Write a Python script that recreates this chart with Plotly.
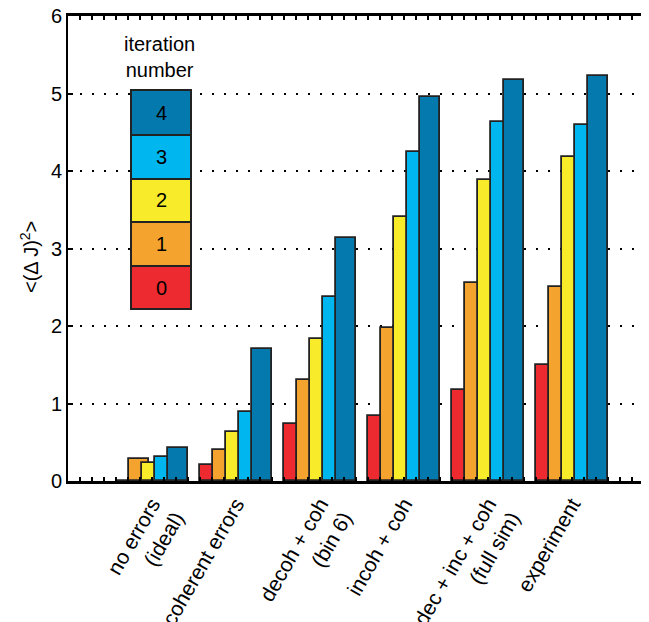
import plotly.graph_objects as go

# ---- data ----
categories = ["no errors<br>(ideal)", "coherent errors", "decoh + coh<br>(bin 6)",
              "incoh + coh", "dec + inc + coh<br>(full sim)", "experiment"]
group_pos = [1, 2, 3, 4, 5, 6]
iterations = ["0", "1", "2", "3", "4"]
iter0 = [0.00, 0.21, 0.73, 0.84, 1.18, 1.50]
iter1 = [0.29, 0.40, 1.30, 1.98, 2.56, 2.50]
iter2 = [0.23, 0.63, 1.83, 3.41, 3.88, 4.18]
iter3 = [0.31, 0.89, 2.37, 4.25, 4.63, 4.59]
iter4 = [0.43, 1.70, 3.14, 4.95, 5.17, 5.22]
series = [iter0, iter1, iter2, iter3, iter4]
y_ticks = [0, 1, 2, 3, 4, 5, 6]
y_title = "&lt;(Δ J)<sup>2</sup>&gt;"

# ---- style ----
colors = ["#ED2A2F", "#F4A42E", "#F7EB2A", "#00B6EE", "#0379AD"]
FONT = "Liberation Sans, Arial, Helvetica, sans-serif"
OFF = 8  # default page body margin
W, H = 649 - OFF, 622 - OFF
ML, MT, MR = 60, 8, 0
PH = 465
MB = H - MT - PH
PW = W - ML - MR
XMAX = PW / 84.0

def px(x):  # screen x -> paper
    return (x - OFF - ML) / PW

def py(y):  # screen y -> paper
    return (OFF + MT + PH - y) / PH

# x ticks every 1/7 unit; labels only at the group centres
n_sub = 7
x_tickvals = [k / n_sub for k in range(int(XMAX * n_sub) + 1)]
x_ticktext = []
for k in range(len(x_tickvals)):
    if k % n_sub == 0 and 1 <= k // n_sub <= len(categories):
        x_ticktext.append(categories[k // n_sub - 1])
    else:
        x_ticktext.append("")

fig = go.Figure()
bar_w = 0.238
step = 0.155
for i, vals in enumerate(series):
    fig.add_trace(go.Bar(
        x=group_pos, y=vals, width=bar_w, offset=-0.43 + step * i,
        marker=dict(color=colors[i], line=dict(color="#222222", width=1.8)),
        name=iterations[i], showlegend=False))

# custom legend box
seg_edges = [309, 266, 222, 179, 135, 90]
shapes = []
annotations = []
for i in range(5):
    y0, y1 = seg_edges[i], seg_edges[i + 1]
    shapes.append(dict(type="rect", xref="paper", yref="paper",
                       x0=px(131), x1=px(191), y0=py(y0), y1=py(y1),
                       fillcolor=colors[i], line=dict(color="#222222", width=2)))
    annotations.append(dict(xref="paper", yref="paper", x=px(161), y=py((y0 + y1) / 2),
                            text=iterations[i], showarrow=False,
                            font=dict(size=20, color="black", family=FONT),
                            xanchor="center", yanchor="middle"))
annotations.append(dict(xref="paper", yref="paper", x=px(159), y=py(57),
                        text="iteration<br>number", showarrow=False,
                        font=dict(size=20, color="black", family=FONT),
                        xanchor="center", yanchor="middle"))
# y-axis title
annotations.append(dict(xref="paper", yref="paper", x=px(29), y=py(257),
                        text=y_title, textangle=-90, showarrow=False,
                        font=dict(size=20, color="black", family=FONT),
                        xanchor="center", yanchor="middle"))

fig.update_layout(
    width=W, height=H,
    margin=dict(l=ML, r=MR, t=MT, b=MB, pad=0),
    paper_bgcolor="white", plot_bgcolor="white",
    barmode="overlay", bargap=0,
    font=dict(family=FONT, size=20, color="black"),
    shapes=shapes, annotations=annotations,
    xaxis=dict(range=[0, XMAX], tickmode="array", tickvals=x_tickvals, ticktext=x_ticktext,
               tickangle=-60, ticks="inside", ticklen=4, tickwidth=1.5, tickcolor="black",
               showgrid=False, zeroline=False, automargin=False, ticklabeloverflow="allow",
               showline=True, linecolor="black", linewidth=2.5, mirror="allticks",
               tickfont=dict(size=21, family=FONT, color="black")),
    yaxis=dict(range=[0, 6], tickmode="array", tickvals=y_ticks,
               ticks="inside", ticklen=5, tickwidth=1.5, tickcolor="black",
               showline=True, linecolor="black", linewidth=2, mirror=False,
               showgrid=True, gridcolor="black", gridwidth=2, griddash="2px,10px",
               zeroline=False, automargin=False, ticklabeloverflow="allow",
               tickfont=dict(size=20, family=FONT, color="black")),
)

fig.write_html("out.html")
